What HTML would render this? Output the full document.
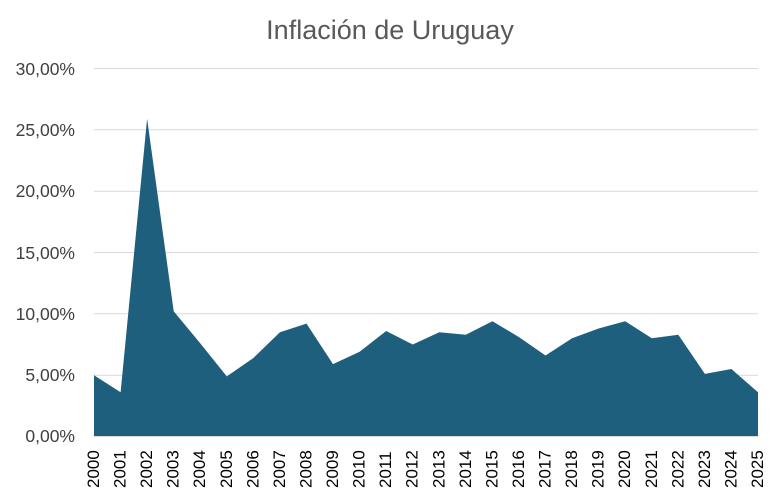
<!DOCTYPE html>
<html><head><meta charset="utf-8"><style>
body{margin:0;background:#fff;}
svg{display:block;font-family:"Liberation Sans",sans-serif;}
</style></head><body>
<svg width="780" height="500" viewBox="0 0 780 500">
<rect width="780" height="500" fill="#fff"/>
<text x="390" y="39" text-anchor="middle" font-size="27" fill="#595959">Inflación de Uruguay</text>
<g stroke="#d9d9d9" stroke-width="1">
<line x1="94" x2="758" y1="68.5" y2="68.5"/>
<line x1="94" x2="758" y1="129.8" y2="129.8"/>
<line x1="94" x2="758" y1="191.2" y2="191.2"/>
<line x1="94" x2="758" y1="252.5" y2="252.5"/>
<line x1="94" x2="758" y1="313.8" y2="313.8"/>
<line x1="94" x2="758" y1="375.2" y2="375.2"/>
</g>
<g font-size="17.5" fill="#404040" text-anchor="end">
<text x="75" y="75">30,00%</text>
<text x="75" y="136">25,00%</text>
<text x="75" y="197">20,00%</text>
<text x="75" y="259">15,00%</text>
<text x="75" y="320">10,00%</text>
<text x="75" y="381">5,00%</text>
<text x="75" y="442">0,00%</text>
</g>
<polygon fill="#1f5f7e" points="94,375.2 120.6,392.3 147.1,118.7 173.7,311.3 200.2,343.2 226.8,376.4 253.4,358.0 279.9,332.2 306.5,323.6 333.0,364.1 359.6,351.8 386.2,331.0 412.7,344.5 439.3,332.2 465.8,334.7 492.4,321.2 519.0,337.1 545.5,355.5 572.1,338.3 598.6,328.5 625.2,321.2 651.8,338.3 678.3,334.7 704.9,373.9 731.4,369.0 758,392.3 758,436.5 94,436.5"/>
<line x1="94" x2="758" y1="436.5" y2="436.5" stroke="#d9d9d9"/>
<g font-size="17" fill="#000">
<text transform="translate(99.0,488) rotate(-90)">2000</text>
<text transform="translate(125.6,488) rotate(-90)">2001</text>
<text transform="translate(152.1,488) rotate(-90)">2002</text>
<text transform="translate(178.7,488) rotate(-90)">2003</text>
<text transform="translate(205.2,488) rotate(-90)">2004</text>
<text transform="translate(231.8,488) rotate(-90)">2005</text>
<text transform="translate(258.4,488) rotate(-90)">2006</text>
<text transform="translate(284.9,488) rotate(-90)">2007</text>
<text transform="translate(311.5,488) rotate(-90)">2008</text>
<text transform="translate(338.0,488) rotate(-90)">2009</text>
<text transform="translate(364.6,488) rotate(-90)">2010</text>
<text transform="translate(391.2,488) rotate(-90)">2011</text>
<text transform="translate(417.7,488) rotate(-90)">2012</text>
<text transform="translate(444.3,488) rotate(-90)">2013</text>
<text transform="translate(470.8,488) rotate(-90)">2014</text>
<text transform="translate(497.4,488) rotate(-90)">2015</text>
<text transform="translate(524.0,488) rotate(-90)">2016</text>
<text transform="translate(550.5,488) rotate(-90)">2017</text>
<text transform="translate(577.1,488) rotate(-90)">2018</text>
<text transform="translate(603.6,488) rotate(-90)">2019</text>
<text transform="translate(630.2,488) rotate(-90)">2020</text>
<text transform="translate(656.8,488) rotate(-90)">2021</text>
<text transform="translate(683.3,488) rotate(-90)">2022</text>
<text transform="translate(709.9,488) rotate(-90)">2023</text>
<text transform="translate(736.4,488) rotate(-90)">2024</text>
<text transform="translate(763.0,488) rotate(-90)">2025</text>
</g>
</svg>
</body></html>
